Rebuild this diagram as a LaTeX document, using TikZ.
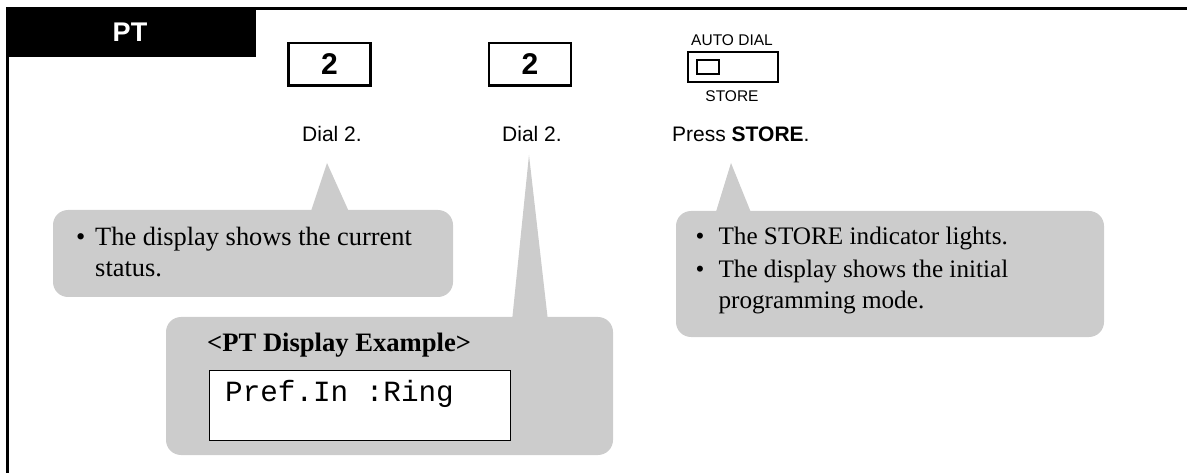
\documentclass[tikz,border=0pt]{standalone}
\usepackage{fontspec}
\setmainfont{Liberation Serif}
\setsansfont{Liberation Sans}
\setmonofont{Liberation Mono}
\definecolor{callgray}{RGB}{204,204,204}
\begin{document}
\begin{tikzpicture}[x=1pt,y=-1pt,
  keybox/.style={draw, line width=2.5pt, minimum width=82pt, minimum height=42.5pt, inner sep=0pt,
    font=\sffamily\bfseries\fontsize{30}{36}\selectfont},
  caption/.style={font=\sffamily\fontsize{21}{25}\selectfont, inner sep=0pt, anchor=base},
  smalllabel/.style={font=\sffamily\fontsize{15.5}{18}\selectfont, inner sep=0pt, anchor=base},
  bubble/.style={fill=callgray, rounded corners=15pt, inner sep=0pt},
  pointer/.style={fill=callgray},
  bullettext/.style={font=\fontsize{25.2}{31}\selectfont, inner sep=0pt, anchor=base west}
]
\useasboundingbox (0,0) rectangle (1187,473);

% frame
\draw[line width=3pt] (7.5,473) -- (7.5,9) -- (1187,9);
\fill[black] (6,8) rectangle (256,57);
\node[font=\sffamily\bfseries\fontsize{27}{32}\selectfont, text=white, inner sep=0pt, anchor=base] (pt) at (130,41.3) {PT};

% keys
\node[keybox] (k1) at (329.5,64.5) {2};
\node[keybox] (k2) at (530,64.5) {2};
\node[caption] (c1) at (332,142) {Dial 2.};
\node[caption] (c2) at (532,142) {Dial 2.};

% store switch
\node[smalllabel] (ad) at (732,46) {AUTO DIAL};
\node[draw, line width=2.2pt, minimum width=90pt, minimum height=30pt, inner sep=0pt] (sw) at (733,67) {};
\node[draw, line width=2pt, minimum width=22pt, minimum height=14.5pt, inner sep=0pt] (led) at (708,67) {};
\node[smalllabel] (st) at (732,101.5) {STORE};
\node[caption, anchor=base west] (c3) at (672,142) {Press \textbf{STORE}.};

% callout 1
\coordinate (p1) at (327,163);
\node[bubble, minimum width=400pt, minimum height=87pt] (b1) at (253,253.5) {};
\fill[pointer] (p1) -- (310,214) -- (350,214) -- cycle;
\node[bullettext, font=\fontsize{26.4}{31}\selectfont] (t1) at (75.8,245.5) {\begin{tabular}[t]{@{}l@{\hspace{10pt}}l@{}}\textbullet & The display shows the current\\ & status.\end{tabular}};

% callout 2
\coordinate (p2) at (529,155);
\node[bubble, minimum width=447pt, minimum height=138pt] (b2) at (389.5,386) {};
\fill[pointer] (p2) -- (512,321) -- (548,321) -- cycle;
\node[font=\bfseries\fontsize{26.6}{31}\selectfont, inner sep=0pt, anchor=base west] (t2) at (207,352) {<PT Display Example>};
\node[draw, fill=white, line width=1.2pt, minimum width=301pt, minimum height=70pt, inner sep=0pt] (disp) at (360,405.5) {};
\node[font=\ttfamily\fontsize{29.3}{33}\selectfont, inner sep=0pt, anchor=base west] (dt) at (225,401) {Pref.In :Ring};

% callout 3
\coordinate (p3) at (731,163);
\node[bubble, minimum width=428pt, minimum height=126pt] (b3) at (890,274) {};
\fill[pointer] (p3) -- (715,215) -- (752,215) -- cycle;
\node[bullettext] (t3) at (695.5,245) {\begin{tabular}[t]{@{}l@{\hspace{14pt}}l@{}}\textbullet & The STORE indicator lights.\\[2pt] \textbullet & The display shows the initial\\ & programming mode.\end{tabular}};
\end{tikzpicture}
\end{document}
